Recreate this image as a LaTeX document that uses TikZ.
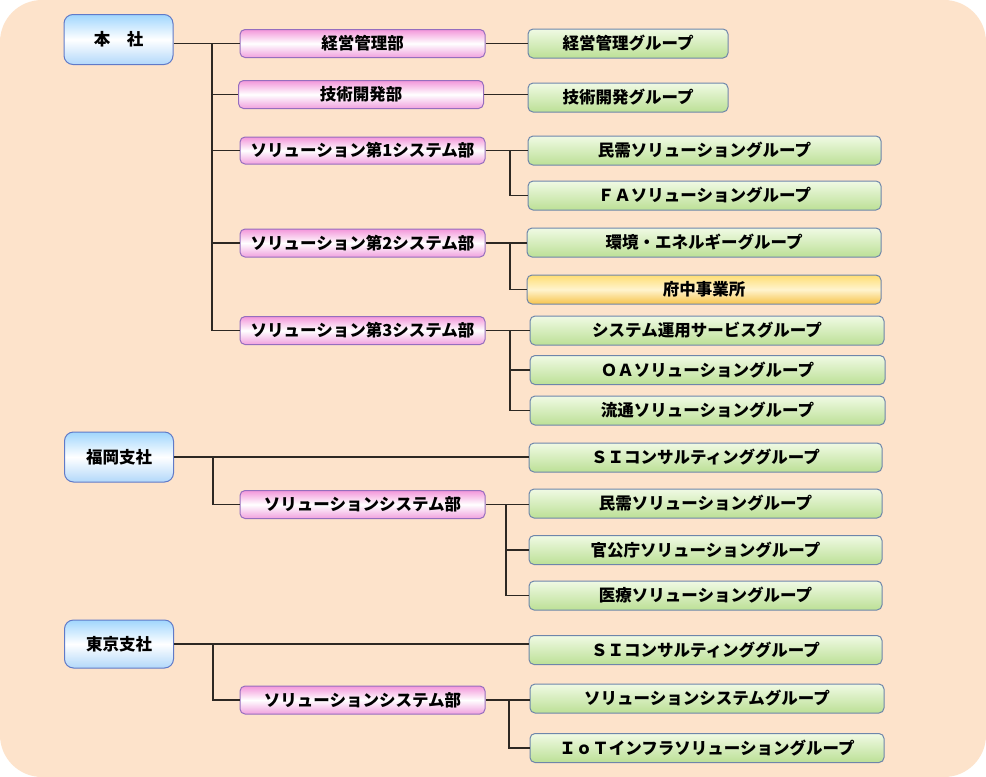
\documentclass[tikz,border=0pt]{standalone}
\usepackage{fontspec}
\usepackage{xcolor}
\usetikzlibrary{positioning, calc}
\newfontfamily\jp{Noto Sans CJK JP}
\definecolor{Peach}{RGB}{253, 227, 203}
\definecolor{HqTop}{RGB}{160, 214, 253}
\definecolor{HqBot}{RGB}{178, 216, 250}
\definecolor{HqLine}{RGB}{96, 122, 200}
\definecolor{DeptTop}{RGB}{243, 150, 218}
\definecolor{DeptBot}{RGB}{240, 160, 222}
\definecolor{DeptLine}{RGB}{150, 110, 190}
\definecolor{GrpTop}{RGB}{240, 250, 228}
\definecolor{GrpBot}{RGB}{188, 224, 150}
\definecolor{GrpLine}{RGB}{110, 134, 170}
\definecolor{OfcTop}{RGB}{255, 222, 115}
\definecolor{OfcBot}{RGB}{247, 196, 76}
\definecolor{Wire}{RGB}{45, 40, 35}

\begin{document}
\begin{tikzpicture}[x=1pt, y=-1pt,
    font=\jp\bfseries\fontsize{16.5}{19}\selectfont,
    hq/.style={rounded corners=9pt, draw=HqLine, line width=1pt, top color=HqTop, bottom color=HqBot, middle color=white, minimum width=109pt, minimum height=50pt, inner sep=0pt},
    dept/.style={rounded corners=5pt, draw=DeptLine, line width=1pt, top color=DeptTop, bottom color=DeptBot, middle color=white, minimum width=245pt, minimum height=28pt, inner sep=0pt},
    grp/.style={rounded corners=5pt, draw=GrpLine, line width=1pt, top color=GrpTop, bottom color=GrpBot, minimum height=29pt, inner sep=0pt},
    ofc/.style={grp, top color=OfcTop, bottom color=OfcBot, middle color=white!65!OfcTop},
    wire/.style={draw=Wire, line width=1.1pt}
]
    \fill[white] (0,0) rectangle (986,777);
    \fill[Peach, rounded corners=42pt] (0,0) rectangle (986,777);

    \node[hq] (honsha) at (118.5,39.5) {本　社};
    \node[hq] (fukuoka) at (119,457) {福岡支社};
    \node[hq, minimum height=48pt] (tokyo) at (119,644) {東京支社};

    \node[dept] (keiei) at (362.5,43.5) {経営管理部};
    \node[dept] (gijutsu) at (361,94.5) {技術開発部};
    \node[dept, minimum height=27pt] (sol1) at (362.5,150.5) {ソリューション第1システム部};
    \node[dept] (sol2) at (362.5,243) {ソリューション第2システム部};
    \node[dept] (sol3) at (362.5,330.5) {ソリューション第3システム部};
    \node[dept] (fsol) at (362.5,504.5) {ソリューションシステム部};
    \node[dept] (tsol) at (362.5,700) {ソリューションシステム部};

    \node[grp, minimum width=200pt] (gkeiei) at (628,43.5) {経営管理グループ};
    \node[grp, minimum width=200pt] (ggijutsu) at (628,97.5) {技術開発グループ};
    \node[grp, minimum width=353pt] (gminju) at (704.5,150.5) {民需ソリューショングループ};
    \node[grp, minimum width=353pt] (gfa) at (704.5,195.5) {ＦＡソリューショングループ};
    \node[grp, minimum width=354pt] (gkankyo) at (704,242.5) {環境・エネルギーグループ};
    \node[ofc, minimum width=354pt] (fuchu) at (704,289.5) {府中事業所};
    \node[grp, minimum width=354pt] (gunyo) at (707,330.5) {システム運用サービスグループ};
    \node[grp, minimum width=355pt] (goa) at (707.5,370) {ＯＡソリューショングループ};
    \node[grp, minimum width=355pt] (gryutsu) at (707.5,410.5) {流通ソリューショングループ};
    \node[grp, minimum width=353pt] (fsi) at (705.5,457.5) {ＳＩコンサルティンググループ};
    \node[grp, minimum width=353pt] (fminju) at (705.5,503.5) {民需ソリューショングループ};
    \node[grp, minimum width=353pt] (fkan) at (705.5,550) {官公庁ソリューショングループ};
    \node[grp, minimum width=353pt] (firyo) at (705.5,595.5) {医療ソリューショングループ};
    \node[grp, minimum width=353pt] (tsi) at (705.5,650) {ＳＩコンサルティンググループ};
    \node[grp, minimum width=354pt] (tsolg) at (707,698.5) {ソリューションシステムグループ};
    \node[grp, minimum width=354pt] (tiot) at (707,748) {ＩｏＴインフラソリューショングループ};

    \coordinate (hqbus) at (212,43.5);
    \coordinate (fkbus) at (213,457);
    \coordinate (tkbus) at (213,644);
    \coordinate (s1bus) at (510,150.5);
    \coordinate (s2bus) at (510,243);
    \coordinate (s3bus) at (510,330.5);
    \coordinate (fsbus) at (506,504.5);
    \coordinate (tsbus) at (509,700);

    \draw[wire] (honsha.east |- keiei.west) -- (keiei.west);
    \draw[wire] (hqbus) |- (gijutsu.west);
    \draw[wire] (hqbus) |- (sol1.west);
    \draw[wire] (hqbus) |- (sol2.west);
    \draw[wire] (hqbus) |- (sol3.west);

    \draw[wire] (keiei.east) -- (gkeiei.west);
    \draw[wire] (gijutsu.east) -- (gijutsu.east -| ggijutsu.west);
    \draw[wire] (sol1.east) -- (gminju.west);
    \draw[wire] (s1bus) |- (gfa.west);
    \draw[wire] (sol2.east) -- (sol2.east -| gkankyo.west);
    \draw[wire] (s2bus) |- (fuchu.west);
    \draw[wire] (sol3.east) -- (gunyo.west);
    \draw[wire] (s3bus) |- (goa.west);
    \draw[wire] (s3bus) |- (gryutsu.west);

    \draw[wire] (fukuoka.east) -- (fukuoka.east -| fsi.west);
    \draw[wire] (fkbus) |- (fsol.west);
    \draw[wire] (fsol.east) -- (fsol.east -| fminju.west);
    \draw[wire] (fsbus) |- (fkan.west);
    \draw[wire] (fsbus) |- (firyo.west);

    \draw[wire] (tokyo.east) -- (tokyo.east -| tsi.west);
    \draw[wire] (tkbus) |- (tsol.west);
    \draw[wire] (tsol.east) -- (tsol.east -| tsolg.west);
    \draw[wire] (tsbus) |- (tiot.west);
\end{tikzpicture}
\end{document}
